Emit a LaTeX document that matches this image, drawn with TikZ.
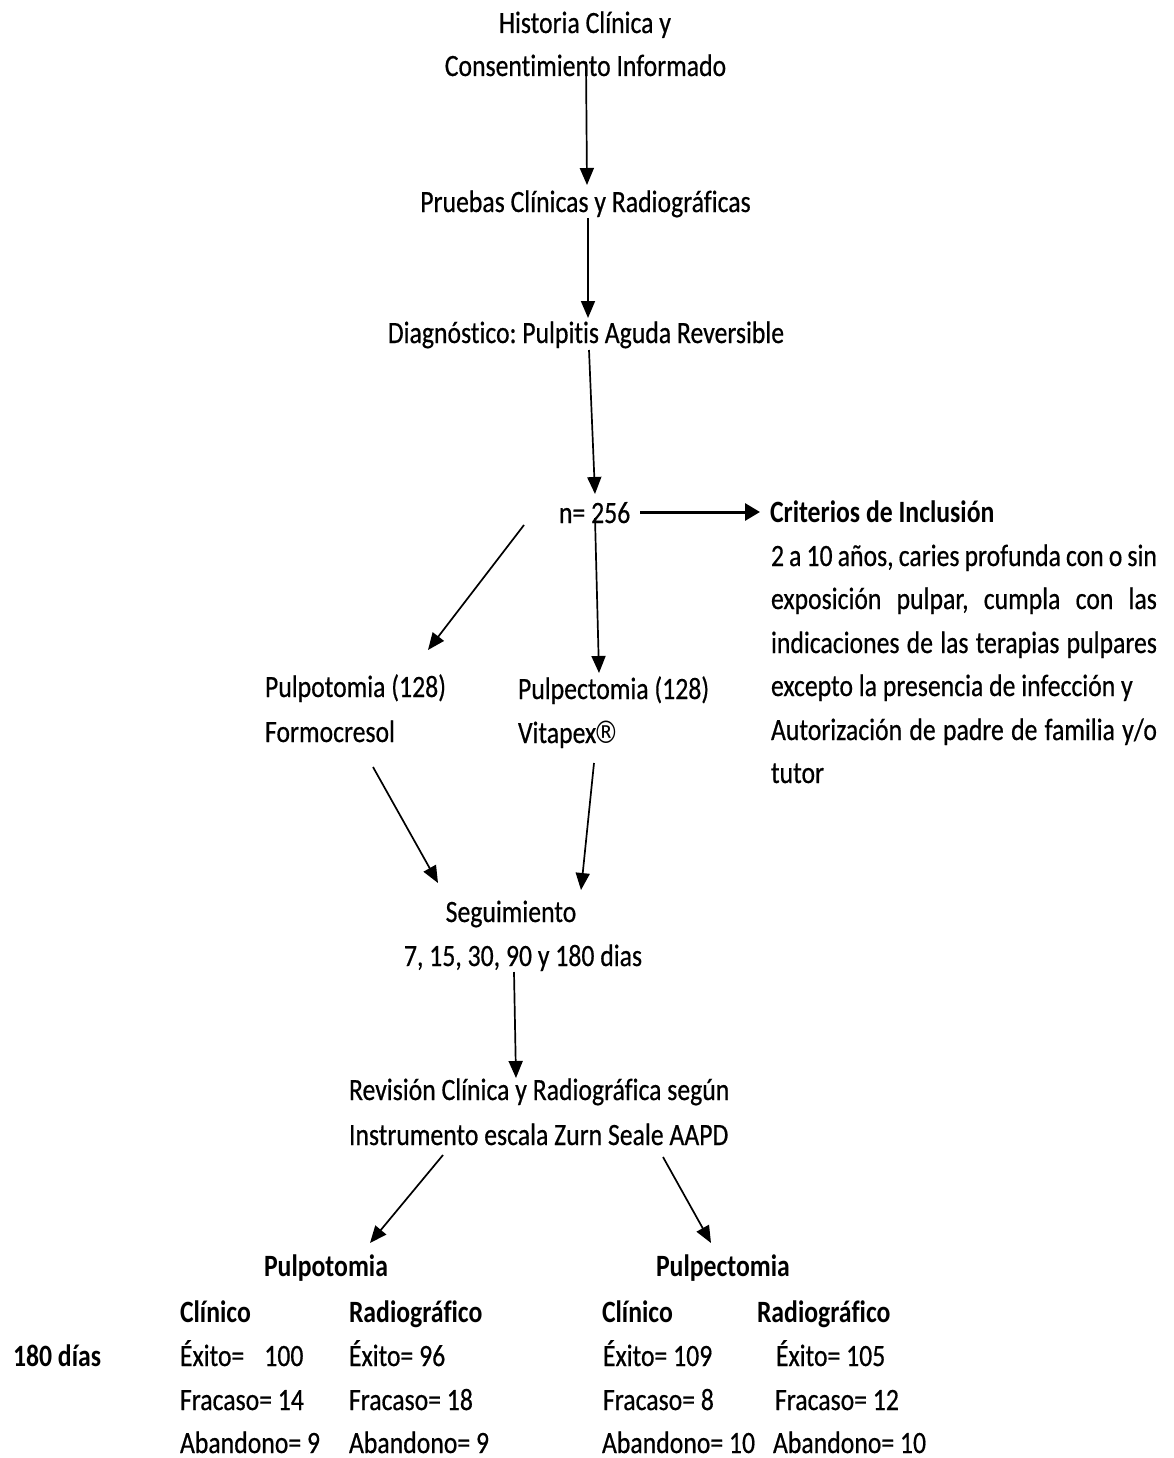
\documentclass[tikz,border=0pt]{standalone}
\usepackage{fontspec}
\setmainfont{Carlito}[FakeStretch=0.83, Ligatures={NoCommon}, UprightFeatures={FakeBold=0.5}]
\newfontfamily\regfont{DejaVu Sans}[FakeStretch=0.83]
\usetikzlibrary{arrows.meta}
\tikzset{
  txt/.style={inner sep=0pt, outer sep=0pt, font=\fontsize{31}{43.5}\selectfont\frenchspacing},
  txtb/.style={txt, font=\fontsize{31}{43.5}\selectfont\frenchspacing\bfseries},
  arr/.style={line width=1.7pt, -{Triangle[length=17pt,width=14pt]}},
  arrthick/.style={line width=3pt, -{Triangle[length=15pt,width=17pt]}}
}
\begin{document}
\begin{tikzpicture}[x=1pt,y=-1pt]
\fill[white] (0,0) rectangle (1174,1458);
\useasboundingbox (0,0) rectangle (1174,1458);

% main column
\node[txt, anchor=base] (hist) at (585,33) {Historia Clínica y};
\node[txt, anchor=base] (cons) at (585.5,76) {Consentimiento Informado};
\node[txt, anchor=base] (prue) at (585.5,212) {Pruebas Clínicas y Radiográficas};
\node[txt, anchor=base] (diag) at (586,343) {Diagnóstico: Pulpitis Aguda Reversible};
\node[txt, anchor=base west] (n) at (559,523) {n= 256};

% criteria
\node[txtb, anchor=base west] (crit) at (770,522) {Criterios de Inclusión};
\node[txt, anchor=base west] (c1) at (771,566) {\makebox[386pt][s]{2 a 10 años, caries profunda con o sin}};
\node[txt, anchor=base west] (c2) at (771,609) {\makebox[386pt][s]{exposición pulpar, cumpla con las}};
\node[txt, anchor=base west] (c3) at (771,653) {\makebox[386pt][s]{indicaciones de las terapias pulpares}};
\node[txt, anchor=base west] (c4) at (771,696) {excepto la presencia de infección y};
\node[txt, anchor=base west] (c5) at (771,740) {\makebox[386pt][s]{Autorización de padre de familia y/o}};
\node[txt, anchor=base west] (c6) at (771,783) {tutor};

% branches
\node[txt, anchor=base west] (pulpo) at (265,697) {Pulpotomia (128)};
\node[txt, anchor=base west] (formo) at (265,742) {Formocresol};
\node[txt, anchor=base west] (pulpe) at (518,699) {Pulpectomia (128)};
\node[txt, anchor=base west] (vita) at (518,743) {Vitapex\kern-2.5pt{\regfont ®}};

\node[txt, anchor=base] (segu) at (511,922) {Seguimiento};
\node[txt, anchor=base] (dias) at (523,966) {7, 15, 30, 90 y 180 dias};

\node[txt, anchor=base west] (revi) at (349,1100) {Revisión Clínica y Radiográfica según};
\node[txt, anchor=base west] (inst) at (349,1145) {Instrumento escala Zurn Seale AAPD};

% results
\node[txtb, anchor=base west] (rpulpo) at (264,1276) {Pulpotomia};
\node[txtb, anchor=base west] (rpulpe) at (656,1276) {Pulpectomia};
\node[txtb, anchor=base west] (cl1) at (180,1322) {Clínico};
\node[txtb, anchor=base west] (ra1) at (349,1322) {Radiográfico};
\node[txtb, anchor=base west] (cl2) at (602,1322) {Clínico};
\node[txtb, anchor=base west] (ra2) at (757,1322) {Radiográfico};
\node[txtb, anchor=base west] (d180) at (13,1366) {180 días};
\node[txt, anchor=base west] (e1) at (180,1366) {Éxito=\hspace{20pt}100};
\node[txt, anchor=base west] (e2) at (349,1366) {Éxito= 96};
\node[txt, anchor=base west] (e3) at (603,1366) {Éxito= 109};
\node[txt, anchor=base west] (e4) at (776,1366) {Éxito= 105};
\node[txt, anchor=base west] (f1) at (180,1410) {Fracaso= 14};
\node[txt, anchor=base west] (f2) at (349,1410) {Fracaso= 18};
\node[txt, anchor=base west] (f3) at (603,1410) {Fracaso= 8};
\node[txt, anchor=base west] (f4) at (775,1410) {Fracaso= 12};
\node[txt, anchor=base west] (a1) at (180,1453) {Abandono= 9};
\node[txt, anchor=base west] (a2) at (349,1453) {Abandono= 9};
\node[txt, anchor=base west] (a3) at (602,1453) {Abandono= 10};
\node[txt, anchor=base west] (a4) at (773,1453) {Abandono= 10};

% connectors
\draw[arr] ([shift={(0.5,-14)}]cons.base) -- ([shift={(1.5,-27)}]prue.base);
\draw[arr] ([shift={(2.5,6)}]prue.base) -- ([shift={(2,-25)}]diag.base);
\draw[arr] ([shift={(3,7)}]diag.base) -- ([shift={(36,-29)}]n.base west);
\draw[arrthick] ([shift={(81,-11)}]n.base west) -- ([shift={(-10,-10)}]crit.base west);
\draw[arr] ([shift={(-35,2)}]n.base west) -- ([shift={(163,-47)}]pulpo.base west);
\draw[arr] ([shift={(36,-5)}]n.base west) -- ([shift={(81,-26)}]pulpe.base west);
\draw[arr] ([shift={(108,25)}]formo.base west) -- ([shift={(-73,-39)}]segu.base);
\draw[arr] ([shift={(76,20)}]vita.base west) -- ([shift={(70,-32)}]segu.base);
\draw[arr] ([shift={(-9,6)}]dias.base) -- ([shift={(167,-22)}]revi.base west);
\draw[arr] ([shift={(94,10)}]inst.base west) -- ([shift={(106,-33)}]rpulpo.base west);
\draw[arr] ([shift={(314,12)}]inst.base west) -- ([shift={(55,-33)}]rpulpe.base west);
\end{tikzpicture}
\end{document}
